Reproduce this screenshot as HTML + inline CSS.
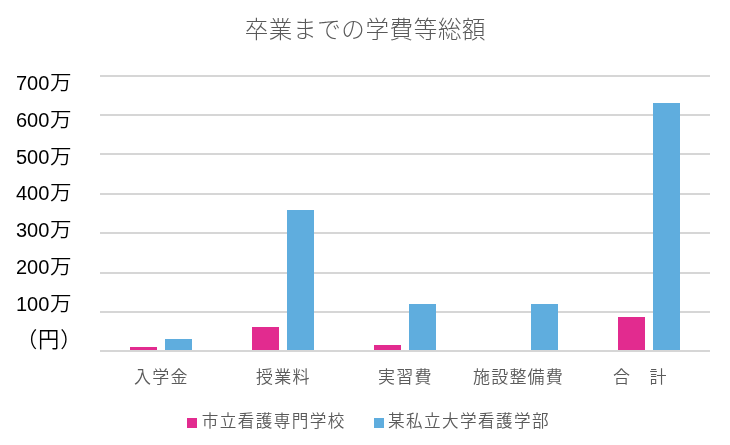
<!DOCTYPE html>
<html lang="ja">
<head>
<meta charset="utf-8">
<title>卒業までの学費等総額</title>
<style>
html,body{margin:0;padding:0;background:#fff;}
body{width:730px;height:445px;position:relative;overflow:hidden;font-family:"Liberation Sans","Noto Sans CJK JP",sans-serif;}
.abs{position:absolute;white-space:nowrap;line-height:1;}
.title{left:244.7px;top:19px;font-size:23.5px;color:#595959;font-weight:300;letter-spacing:.65px;}
.grid{position:absolute;left:100px;width:610px;height:2px;background:#d6d6d6;}
.bar{position:absolute;width:27px;}
.p{background:#e22b8f;}
.b{background:#5fadde;}
.yl{left:16px;color:#000;font-size:20px;line-height:24px;}
.yl .k{font-size:20.5px;font-weight:350;display:inline-block;transform:scaleX(1.05);transform-origin:0 50%;position:relative;top:.1px;margin-left:.2px;font-family:"Noto Sans CJK JP",sans-serif;}
.xl{font-size:17px;letter-spacing:1.2px;color:#5b5b5b;font-weight:350;top:369.1px;margin-left:-1px;}
.lg{font-size:16.6px;letter-spacing:1.4px;color:#5b5b5b;font-weight:350;top:414.1px;margin-left:-.6px;}
.sq{position:absolute;width:10px;height:10px;top:418px;}
</style>
</head>
<body>
<div class="abs title">卒業までの学費等総額</div>

<div class="grid" style="top:75px"></div>
<div class="grid" style="top:114px"></div>
<div class="grid" style="top:153px"></div>
<div class="grid" style="top:193px"></div>
<div class="grid" style="top:232px"></div>
<div class="grid" style="top:272px"></div>
<div class="grid" style="top:311px"></div>

<div class="bar p" style="left:130px;top:347px;height:3px"></div>
<div class="bar b" style="left:165px;top:339px;height:11px"></div>
<div class="bar p" style="left:252px;top:327px;height:23px"></div>
<div class="bar b" style="left:287px;top:210px;height:140px"></div>
<div class="bar p" style="left:374px;top:345px;height:5px"></div>
<div class="bar b" style="left:409px;top:304px;height:46px"></div>
<div class="bar b" style="left:531px;top:304px;height:46px"></div>
<div class="bar p" style="left:618px;top:317px;height:33px"></div>
<div class="bar b" style="left:653px;top:103px;height:247px"></div>

<div class="grid" style="top:350px"></div>

<div class="abs yl" style="top:69.1px">700<span class="k">万</span></div>
<div class="abs yl" style="top:105.9px">600<span class="k">万</span></div>
<div class="abs yl" style="top:142.6px">500<span class="k">万</span></div>
<div class="abs yl" style="top:179.4px">400<span class="k">万</span></div>
<div class="abs yl" style="top:216.2px">300<span class="k">万</span></div>
<div class="abs yl" style="top:253.0px">200<span class="k">万</span></div>
<div class="abs yl" style="top:289.7px">100<span class="k">万</span></div>
<div class="abs yl" style="top:326px;left:16px"><span class="k" style="font-size:21.3px;margin-left:0;letter-spacing:.8px;transform:none">（円）</span></div>

<div class="abs xl" style="left:135px">入学金</div>
<div class="abs xl" style="left:257px">授業料</div>
<div class="abs xl" style="left:379px">実習費</div>
<div class="abs xl" style="left:474px">施設整備費</div>
<div class="abs xl" style="left:614px">合　計</div>

<div class="sq p" style="left:187px"></div>
<div class="abs lg" style="left:202.4px">市立看護専門学校</div>
<div class="sq b" style="left:374px"></div>
<div class="abs lg" style="left:388.6px">某私立大学看護学部</div>
</body>
</html>
